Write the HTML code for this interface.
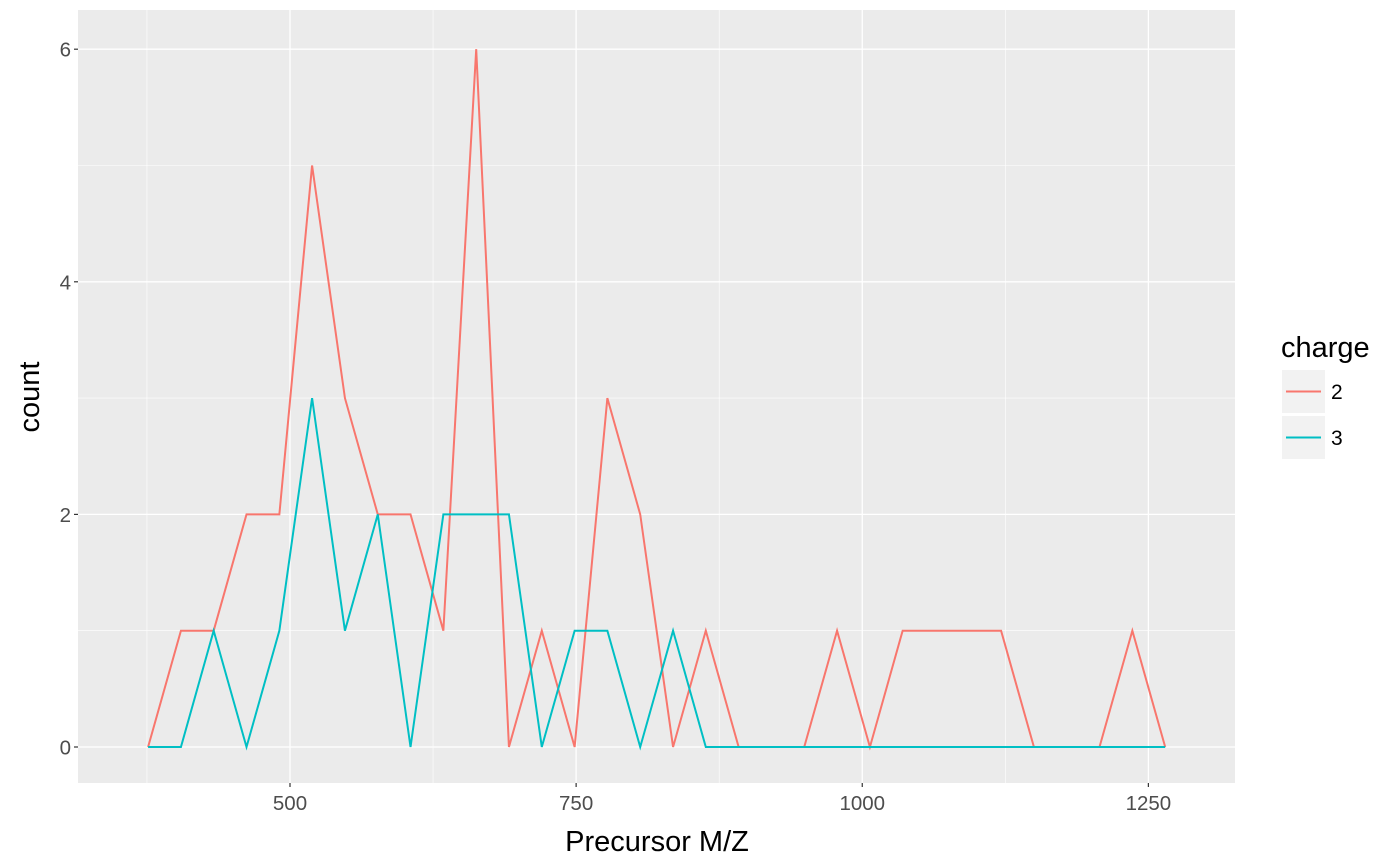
<!DOCTYPE html>
<html><head><meta charset="utf-8"><style>body{margin:0;background:#fff}svg{display:block}</style></head>
<body>
<svg id="chart" width="1400" height="866" xmlns="http://www.w3.org/2000/svg" font-family="Liberation Sans, sans-serif"></svg>
<script>
const binCenters=[376,404.7,433.3,462,490.7,519.3,548,576.7,605.3,634,662.7,691.3,720,748.7,777.3,806,834.7,863.3,892,920.7,949.3,978,1006.7,1035.3,1064,1092.7,1121.3,1150,1178.7,1207.3,1236,1264.7];
const charge2=[0,1,1,2,2,5,3,2,2,1,6,0,1,0,3,2,0,1,0,0,0,1,0,1,1,1,1,0,0,0,1,0];
const charge3=[0,0,1,0,1,3,1,2,0,2,2,2,0,1,1,0,1,0,0,0,0,0,0,0,0,0,0,0,0,0,0,0];
const xTicks=[500,750,1000,1250];
const xMinor=[375,625,875,1125];
const yTicks=[0,2,4,6];
const yMinor=[1,3,5];
const seriesNames=["2","3"];
const seriesColors=["#f8766d","#00bfc4"];

const NS="http://www.w3.org/2000/svg";
const svg=document.getElementById('chart');
const L=78,R=1235,T=10,B=783;
const xs=v=>290+(v-500)*1.1445;
const ys=v=>747-v*116.3;
function mk(tag,attrs,parent){const e=document.createElementNS(NS,tag);for(const k in attrs)e.setAttribute(k,attrs[k]);(parent||svg).appendChild(e);return e;}
const panel=mk('rect',{x:L,y:T,width:R-L,height:B-T,fill:'#ebebeb'});


xMinor.forEach(v=>{const l=mk('line',{x1:xs(v),x2:xs(v),y1:T,y2:B,stroke:'#fff','stroke-width':0.6});});
yMinor.forEach(v=>{const l=mk('line',{x1:L,x2:R,y1:ys(v),y2:ys(v),stroke:'#fff','stroke-width':0.6});});
xTicks.forEach(v=>{const l=mk('line',{x1:xs(v),x2:xs(v),y1:T,y2:B,stroke:'#fff','stroke-width':1.3});
 const t=mk('line',{x1:xs(v),x2:xs(v),y1:B,y2:B+4,stroke:'#333','stroke-width':1.2});
 const tx=mk('text',{x:xs(v),y:B+27,'text-anchor':'middle','font-size':20.5,fill:'#4d4d4d'});tx.textContent=v;});
yTicks.forEach(v=>{const l=mk('line',{x1:L,x2:R,y1:ys(v),y2:ys(v),stroke:'#fff','stroke-width':1.3});
 const t=mk('line',{x1:L-4,x2:L,y1:ys(v),y2:ys(v),stroke:'#333','stroke-width':1.2});
 const tx=mk('text',{x:L-7,y:ys(v)+7.5,'text-anchor':'end','font-size':20.5,fill:'#4d4d4d'});tx.textContent=v;});
[charge2,charge3].forEach((s,i)=>{const p=mk('polyline',{points:s.map((v,j)=>xs(binCenters[j])+','+ys(v)).join(' '),fill:'none',stroke:seriesColors[i],'stroke-width':2});});
const xt=mk('text',{x:657,y:851,'text-anchor':'middle','font-size':29,fill:'#000'});xt.textContent='Precursor M/Z';


const yt=mk('text',{x:0,y:0,'text-anchor':'middle','font-size':29,fill:'#000',transform:'translate(39,397) rotate(-90)'});yt.textContent='count';


const lt=mk('text',{x:1281,y:357,'font-size':29,fill:'#000'});lt.textContent='charge';


seriesNames.forEach((n,i)=>{const y0=370+i*46;
 const g=mk('g',{});
 mk('rect',{x:1282,y:y0,width:43,height:43,fill:'#f2f2f2'},g);
 mk('line',{x1:1286,x2:1321,y1:y0+21.5,y2:y0+21.5,stroke:seriesColors[i],'stroke-width':2},g);
 const t=mk('text',{x:1331,y:y0+29,'font-size':21,fill:'#000'},g);t.textContent=n;});
</script>
</body></html>
